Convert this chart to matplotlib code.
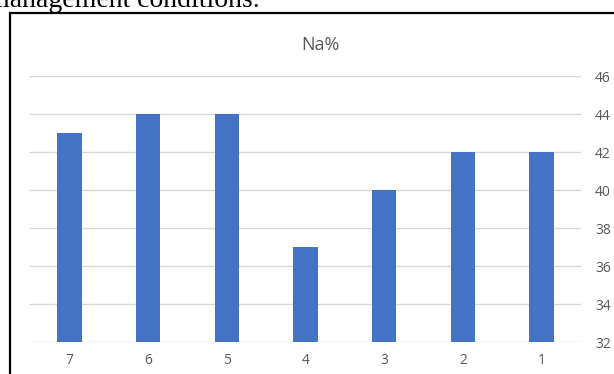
import matplotlib.pyplot as plt
from matplotlib.patches import Rectangle

# Na% per sample, plotted in reverse order (7 -> 1)
categories = ['7', '6', '5', '4', '3', '2', '1']
na_pct = [43, 44, 44, 37, 40, 42, 42]
y_ticks = [32, 34, 36, 38, 40, 42, 44, 46]

W, H = 614, 374
fig = plt.figure(figsize=(W / 100, H / 100), dpi=100)

# caption line above the chart box (clipped by the top edge)
fig.text(-12 / W, 1 - 7 / H, 'management conditions.', fontsize=20,
         family='Liberation Serif', color='black', va='baseline', ha='left')

# chart box outline, running off the right and bottom edges
fig.patches.append(Rectangle((10 / W, -0.1), 1.2, 1 - 13 / H + 0.1,
                             transform=fig.transFigure, fill=False,
                             edgecolor='black', linewidth=1.6))

ax = fig.add_axes([30 / W, (H - 342) / H, (581 - 30) / W, (342 - 76) / H])
x = range(len(categories))
ax.bar(x, [v - 32 for v in na_pct], bottom=32, width=0.31, color='#4472C4', zorder=3)

ax.set_ylim(32, 46)
ax.set_xlim(-0.5, len(categories) - 0.5)
ax.set_yticks(y_ticks)
ax.set_xticks(list(x))
ax.set_xticklabels(categories)
ax.yaxis.tick_right()
ax.grid(axis='y', color='#D9D9D9', linewidth=1, zorder=0)
for s in ax.spines.values():
    s.set_visible(False)
ax.tick_params(length=0, labelsize=10, labelcolor='#595959')
ax.tick_params(axis='y', pad=10)
ax.tick_params(axis='x', pad=8)
for lab in ax.get_xticklabels() + ax.get_yticklabels():
    lab.set_family('Open Sans')

fig.text(320 / W, 1 - 45 / H, 'Na%', fontsize=13, color='#595959',
         family='Open Sans', ha='center', va='center')

fig.savefig('out.png', dpi=100)
